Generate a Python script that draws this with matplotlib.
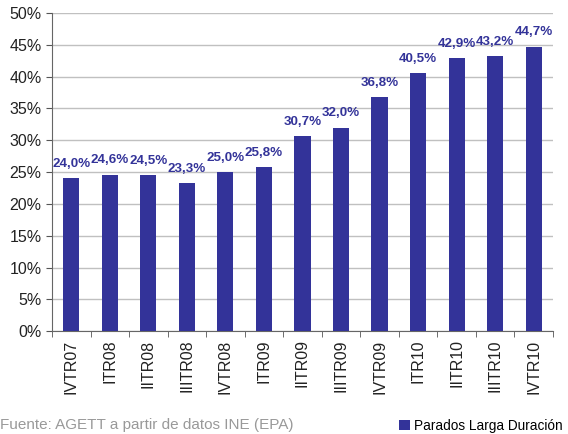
import matplotlib.pyplot as plt
from matplotlib.ticker import FuncFormatter, FixedLocator

plt.rcParams['font.family'] = ['Liberation Sans', 'DejaVu Sans']

trimestres = ["IVTR07", "ITR08", "IITR08", "IIITR08", "IVTR08", "ITR09", "IITR09",
              "IIITR09", "IVTR09", "ITR10", "IITR10", "IIITR10", "IVTR10"]
parados = [24.0, 24.6, 24.5, 23.3, 25.0, 25.8, 30.7, 32.0, 36.8, 40.5, 42.9, 43.2, 44.7]

bar_color = "#333399"

fig = plt.figure(figsize=(5.68, 4.34), dpi=100)
ax = fig.add_axes([0.0915, 0.237, 0.882, 0.733])

x = list(range(len(trimestres)))
ax.bar(x, parados, width=0.42, color=bar_color, zorder=3, label="Parados Larga Duración")
for xi, v in zip(x, parados):
    ax.text(xi, v + 1.3, f"{v:.1f}%".replace(".", ","), ha="center", va="bottom",
            color=bar_color, fontsize=9.6, fontweight="bold", zorder=4)

ax.set_ylim(0, 50)
ax.set_xlim(-0.5, len(trimestres) - 0.5)
ax.set_yticks(range(0, 51, 5))
ax.yaxis.set_major_formatter(FuncFormatter(lambda v, p: f"{v:.0f}%"))
ax.yaxis.grid(True, color="#c0c0c0", linewidth=1, zorder=0)
ax.tick_params(axis="y", labelsize=11.5, length=4, color="#555555", labelcolor="#222222")

ax.set_xticks(x)
ax.set_xticklabels(trimestres, rotation=90, fontsize=11.5, color="#222222")
ax.tick_params(axis="x", which="major", length=0, pad=6)
ax.xaxis.set_minor_locator(FixedLocator([i - 0.5 for i in range(len(trimestres) + 1)]))
ax.tick_params(axis="x", which="minor", length=4, color="#555555")

for s in ["top", "right"]:
    ax.spines[s].set_visible(False)
ax.spines["left"].set_color("#666666")
ax.spines["bottom"].set_color("#666666")

fig.text(0.0, 0.012, "Fuente: AGETT a partir de datos INE (EPA)", fontsize=11, color="#999999")
fig.legend(loc="lower right", bbox_to_anchor=(1.012, -0.025), frameon=False, fontsize=9.8,
           handlelength=0.8, handleheight=0.8, handletextpad=0.3)

fig.savefig("out.png", dpi=100)
